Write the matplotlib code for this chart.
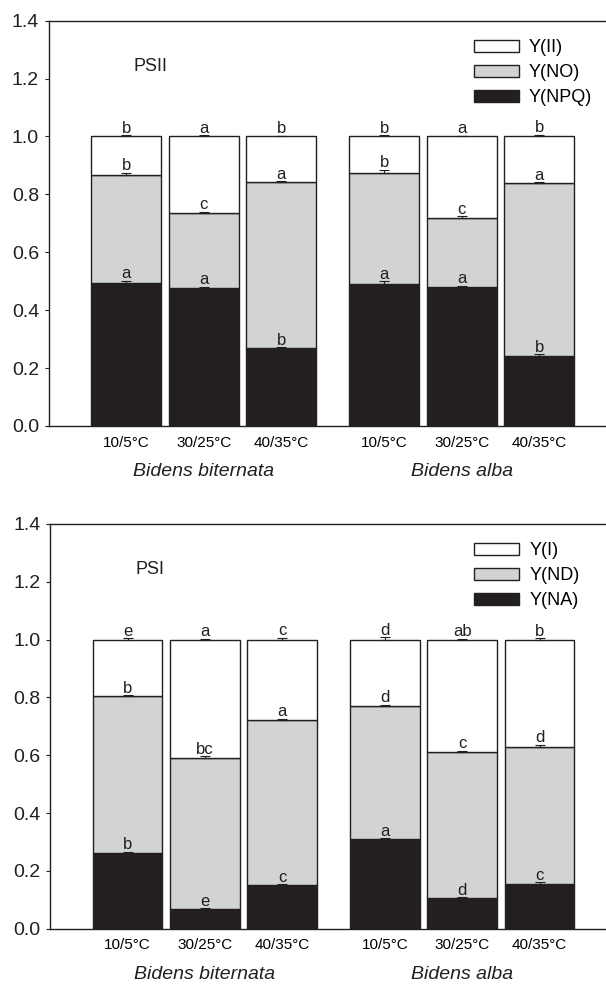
import numpy as np
import matplotlib
matplotlib.use("Agg")
from matplotlib import pyplot as plt
from matplotlib.patches import Patch

plt.rcParams["font.family"] = ["Liberation Sans", "DejaVu Sans"]

temps = ["10/5\u00b0C", "30/25\u00b0C", "40/35\u00b0C", "10/5\u00b0C", "30/25\u00b0C", "40/35\u00b0C"]
species = ["Bidens biternata", "Bidens alba"]

# PSII quantum yields (stacked bottom to top: NPQ, NO, II)
y_npq = [0.494, 0.477, 0.268, 0.492, 0.480, 0.243]
y_no = [0.374, 0.258, 0.574, 0.383, 0.240, 0.595]
y_ii = [0.132, 0.265, 0.158, 0.125, 0.280, 0.162]
err_npq = [0.008, 0.004, 0.004, 0.008, 0.005, 0.004]
err_no = [0.007, 0.005, 0.004, 0.010, 0.004, 0.005]
err_ii = [0.004, 0.004, 0.003, 0.005, 0.003, 0.006]
let_npq = ["a", "a", "b", "a", "a", "b"]
let_no = ["b", "c", "a", "b", "c", "a"]
let_ii = ["b", "a", "b", "b", "a", "b"]

# PSI quantum yields (stacked bottom to top: NA, ND, I)
y_na = [0.262, 0.068, 0.151, 0.310, 0.106, 0.155]
y_nd = [0.542, 0.524, 0.570, 0.460, 0.506, 0.472]
y_i = [0.196, 0.408, 0.279, 0.230, 0.388, 0.373]
err_na = [0.005, 0.003, 0.004, 0.004, 0.004, 0.007]
err_nd = [0.005, 0.004, 0.006, 0.005, 0.004, 0.010]
err_i = [0.004, 0.003, 0.007, 0.008, 0.003, 0.005]
let_na = ["b", "e", "c", "a", "d", "c"]
let_nd = ["b", "bc", "a", "d", "c", "d"]
let_i = ["e", "a", "c", "d", "ab", "b"]

pos = np.array([0, 1, 2, 3.33, 4.33, 5.33])
width = 0.9
ink = "#231f20"
colors = ["#231f20", "#d1d3d4", "white"]


def panel(ax, layers, errs, letters, names, title):
    bottom = np.zeros(len(pos))
    for vals, err, lets, color in zip(layers, errs, letters, colors):
        vals = np.array(vals)
        ax.bar(pos, vals, width, bottom=bottom, color=color, edgecolor=ink, linewidth=1.0, zorder=2)
        top = bottom + vals
        err = np.array(err)
        ax.errorbar(pos, top, yerr=[np.zeros(len(pos)), err], fmt="none", ecolor=ink,
                    elinewidth=0.8, capsize=3.6, capthick=0.8, zorder=3)
        for x, t, e, s in zip(pos, top, err, lets):
            ax.annotate(s, (x, t + e), xytext=(0, -0.5), textcoords="offset points",
                        ha="center", va="bottom", fontsize=12, color=ink, zorder=4)
        bottom = top

    ax.set_xlim(-1.0, 6.19)
    ax.set_ylim(0, 1.4)
    ax.set_yticks(np.arange(0, 1.41, 0.2))
    ax.set_yticklabels([f"{v:.1f}" for v in np.arange(0, 1.41, 0.2)], fontsize=14)
    ax.set_xticks(pos, temps, fontsize=11)
    ax.tick_params(axis="x", length=0, pad=7)
    ax.tick_params(axis="y", direction="out", length=3, width=0.8, pad=4, colors=ink)
    ax.spines["right"].set_visible(False)
    for s in ["left", "bottom", "top"]:
        ax.spines[s].set_color(ink)
        ax.spines[s].set_linewidth(1.0)

    for i, sp in enumerate(species):
        cx = pos[3 * i:3 * i + 3].mean()
        ax.annotate(sp, (cx, 0), xycoords=("data", "axes fraction"), xytext=(0, -33),
                    textcoords="offset points", ha="center", va="center",
                    fontsize=14, style="italic", color=ink)

    ax.text(0.10, 1.241, title, fontsize=13, ha="left", va="center", color=ink)

    handles = [Patch(facecolor=c, edgecolor=ink, linewidth=1.0) for c in colors[::-1]]
    ax.legend(handles, names, loc="upper left", bbox_to_anchor=(0.763, 0.955), frameon=False,
              fontsize=13, handlelength=2.5, handleheight=0.65, handletextpad=0.55,
              labelspacing=0.45, borderpad=0, borderaxespad=0)


fig = plt.figure(figsize=(6.06, 9.84), dpi=100)
ax1 = fig.add_axes([0.0804, 0.5671, 1.0 - 0.0804, 0.4119])
ax2 = fig.add_axes([0.0830, 0.0562, 1.0 - 0.0830, 0.4113])

panel(ax1, [y_npq, y_no, y_ii], [err_npq, err_no, err_ii], [let_npq, let_no, let_ii],
      ["Y(II)", "Y(NO)", "Y(NPQ)"], "PSII")
panel(ax2, [y_na, y_nd, y_i], [err_na, err_nd, err_i], [let_na, let_nd, let_i],
      ["Y(I)", "Y(ND)", "Y(NA)"], "PSI")

fig.savefig("out.png", dpi=100)
